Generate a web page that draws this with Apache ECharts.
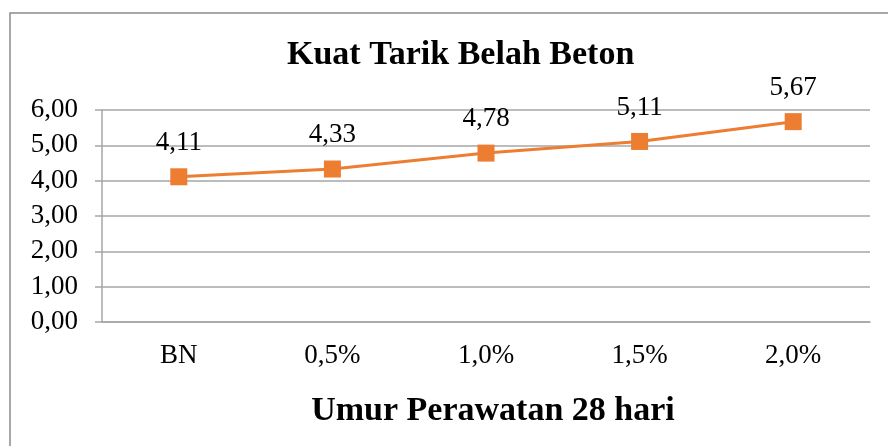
<!DOCTYPE html>
<html>
<head>
<meta charset="utf-8">
<script src="https://cdn.jsdelivr.net/npm/echarts@6/dist/echarts.min.js"></script>
<style>
  html, body { margin: 0; padding: 0; background: #fff; }
  #chart { width: 888px; height: 446px; }
</style>
</head>
<body>
<div id="chart"></div>
<script>
const categories = ['BN', '0,5%', '1,0%', '1,5%', '2,0%'];
const values = [4.11, 4.33, 4.78, 5.11, 5.67];
const yTicks = { min: 0, max: 6, interval: 1 };

const chart = echarts.init(document.getElementById('chart'));
const font = 'Liberation Serif, Times New Roman, serif';
const gray = '#a6a6a6';

const fmt = v => v.toFixed(2).replace('.', ',');

chart.setOption({
  backgroundColor: '#fff',
  animation: false,
  graphic: [{
    type: 'rect',
    shape: { x: 10, y: 13, width: 900, height: 500 },
    style: { fill: 'none', stroke: '#8c8c8c', lineWidth: 1.5 },
    silent: true
  }],
  title: {
    text: 'Kuat Tarik Belah Beton',
    left: 282,
    top: 33,
    textStyle: { fontFamily: font, fontSize: 34, fontWeight: 'bold', color: '#000' }
  },
  grid: { left: 102, right: 18, top: 110, bottom: 124 },
  xAxis: {
    type: 'category',
    data: categories,
    boundaryGap: true,
    name: 'Umur Perawatan 28 hari',
    nameLocation: 'middle',
    nameGap: 72,
    nameTextStyle: { fontFamily: font, fontSize: 34, fontWeight: 'bold', color: '#000', padding: [0, 0, 0, 14] },
    axisLine: { lineStyle: { color: gray, width: 1.5 } },
    axisTick: { show: false },
    axisLabel: { fontFamily: font, fontSize: 27, color: '#000', margin: 20 }
  },
  yAxis: {
    type: 'value',
    min: yTicks.min,
    max: yTicks.max,
    interval: yTicks.interval,
    axisLine: { show: true, lineStyle: { color: gray, width: 1.5 } },
    axisTick: { show: true, length: 7, lineStyle: { color: gray, width: 1.5 } },
    splitLine: { lineStyle: { color: gray, width: 1.5 } },
    axisLabel: { fontFamily: font, fontSize: 27, color: '#000', margin: 24, formatter: v => fmt(v) }
  },
  series: [{
    type: 'line',
    data: values,
    symbol: 'rect',
    symbolSize: 17,
    itemStyle: { color: '#ED7D31' },
    lineStyle: { color: '#ED7D31', width: 3 },
    label: {
      show: true,
      position: 'top',
      distance: 12,
      fontFamily: font,
      fontSize: 27,
      color: '#000',
      formatter: p => fmt(p.value)
    }
  }]
});
</script>
</body>
</html>
